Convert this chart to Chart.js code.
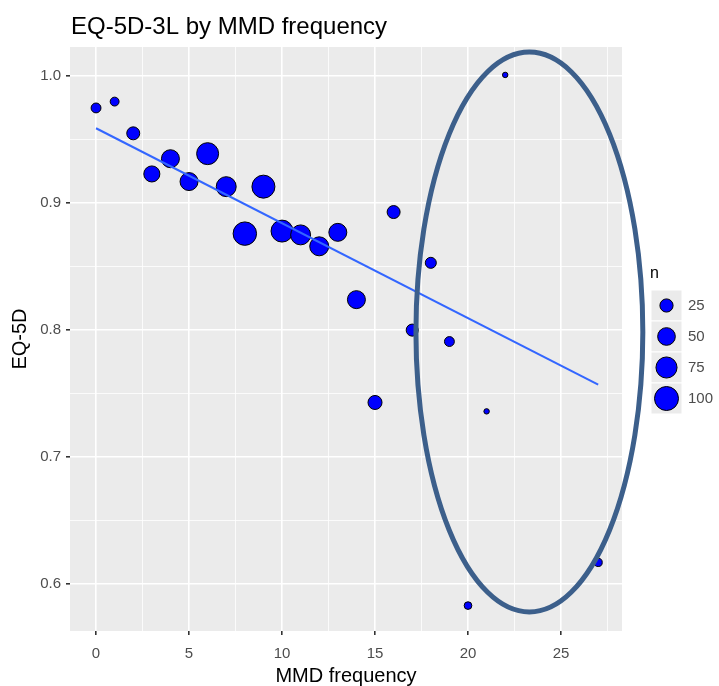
<!DOCTYPE html>
<html lang="en">
  <head>
    <meta charset="UTF-8" />
    <title>EQ-5D-3L by MMD frequency</title>
    <script src="https://cdn.jsdelivr.net/npm/chart.js"></script>
    <style>
      html,
      body {
        margin: 0;
        padding: 0;
        background: #fff;
      }
      #wrap {
        width: 719px;
        height: 686px;
      }
    </style>
  </head>
  <body>
    <div id="wrap"><canvas id="eqChart"></canvas></div>

    <script>
      // data
      const mmdFrequency = [0, 1, 2, 3, 4, 5, 6, 7, 8, 9, 10, 11, 12, 13, 14, 15, 16, 17, 18, 19, 20, 21, 22, 27];
      const eq5dMean = [0.975, 0.98, 0.955, 0.923, 0.935, 0.917, 0.939, 0.913, 0.876, 0.913, 0.878, 0.875, 0.866, 0.877, 0.824, 0.743, 0.893, 0.8, 0.853, 0.791, 0.583, 0.736, 1.001, 0.617];
      const nPatients = [12, 9, 24, 40, 52, 52, 82, 66, 95, 91, 82, 66, 59, 52, 52, 29, 24, 20, 16, 12, 6, 2, 2, 7];

      // linear fit (geom_smooth lm)
      const fitX = [0, 27];
      const fitY = [0.959, 0.757];

      const xMajorTicks = [0, 5, 10, 15, 20, 25];
      const xMinorTicks = [2.5, 7.5, 12.5, 17.5, 22.5, 27.5];
      const yMajorTicks = [0.6, 0.7, 0.8, 0.9, 1.0];
      const yMinorTicks = [0.65, 0.75, 0.85, 0.95];
      const legendSizes = [25, 50, 75, 100];

      // highlight ellipse drawn over the plot, in data units
      const ellipseX = [17.2, 29.4];
      const ellipseY = [0.578, 1.019];

      const FONT = "'Liberation Sans', Arial, sans-serif";
      const sizeToRadius = (n) => 1.2 + 1.08 * Math.sqrt(n);

      const panelPlugin = {
        id: "panel",
        beforeDraw(chart) {
          const { ctx, chartArea: a } = chart;
          ctx.save();
          ctx.fillStyle = "#EBEBEB";
          ctx.fillRect(a.left, a.top, a.right - a.left, a.bottom - a.top);
          ctx.restore();
        },
        afterDraw(chart) {
          const { ctx, chartArea: a, scales } = chart;
          ctx.save();

          // title
          ctx.fillStyle = "#000";
          ctx.font = "24px " + FONT;
          ctx.textBaseline = "alphabetic";
          ctx.textAlign = "left";
          ctx.fillText("EQ-5D-3L by MMD frequency", a.left + 1, 34);

          // size legend
          const mid = (a.top + a.bottom) / 2;
          const keyLeft = a.right + 29;
          const keyW = 31;
          const keyH = 31;
          const keyTop = mid - 49;
          ctx.textBaseline = "middle";
          ctx.font = "16px " + FONT;
          ctx.fillStyle = "#000";
          ctx.fillText("n", keyLeft - 1, keyTop - 16);
          legendSizes.forEach((n, i) => {
            const top = keyTop + i * keyH;
            ctx.fillStyle = "#EBEBEB";
            ctx.fillRect(keyLeft, top, keyW, keyH);
            ctx.strokeStyle = "#fff";
            ctx.lineWidth = 1;
            ctx.strokeRect(keyLeft, top, keyW, keyH);
            ctx.beginPath();
            ctx.arc(keyLeft + keyW / 2, top + keyH / 2, sizeToRadius(n), 0, Math.PI * 2);
            ctx.fillStyle = "#0000FF";
            ctx.fill();
            ctx.strokeStyle = "#000";
            ctx.stroke();
            ctx.fillStyle = "#4D4D4D";
            ctx.font = "15px " + FONT;
            ctx.fillText(String(n), keyLeft + keyW + 6, top + keyH / 2);
          });

          // highlight ellipse
          const x0 = scales.x.getPixelForValue(ellipseX[0]);
          const x1 = scales.x.getPixelForValue(ellipseX[1]);
          const y0 = scales.y.getPixelForValue(ellipseY[1]);
          const y1 = scales.y.getPixelForValue(ellipseY[0]);
          ctx.beginPath();
          ctx.ellipse((x0 + x1) / 2, (y0 + y1) / 2, (x1 - x0) / 2, (y1 - y0) / 2, 0, 0, Math.PI * 2);
          ctx.strokeStyle = "#3C5F8B";
          ctx.lineWidth = 5;
          ctx.stroke();

          ctx.restore();
        },
      };

      const isMajor = (list, v) => list.some((m) => Math.abs(m - v) < 1e-9);

      new Chart(document.getElementById("eqChart"), {
        type: "scatter",
        data: {
          datasets: [
            {
              type: "line",
              data: fitX.map((x, i) => ({ x: x, y: fitY[i] })),
              borderColor: "#3366FF",
              borderWidth: 2,
              pointRadius: 0,
              fill: false,
            },
            {
              data: mmdFrequency.map((x, i) => ({ x: x, y: eq5dMean[i], n: nPatients[i] })),
              backgroundColor: "#0000FF",
              borderColor: "#000",
              borderWidth: 1,
              pointRadius: (c) => sizeToRadius(c.raw.n),
            },
          ],
        },
        options: {
          responsive: true,
          maintainAspectRatio: false,
          animation: false,
          layout: { padding: { top: 47, right: 97, bottom: 0, left: 6 } },
          plugins: {
            legend: { display: false },
            tooltip: { enabled: false },
          },
          scales: {
            x: {
              type: "linear",
              min: -1.4,
              max: 28.28,
              afterBuildTicks: (s) => {
                s.ticks = [...xMajorTicks, ...xMinorTicks].sort((a, b) => a - b).map((v) => ({ value: v }));
              },
              afterFit: (s) => {
                s.height = 55;
              },
              ticks: {
                callback: (v) => (isMajor(xMajorTicks, v) ? String(v) : ""),
                color: "#4D4D4D",
                font: { family: FONT, size: 15 },
                maxRotation: 0,
                autoSkip: false,
                padding: 10,
              },
              grid: {
                color: "#fff",
                lineWidth: (c) => (isMajor(xMajorTicks, c.tick.value) ? 1.6 : 0.8),
                tickColor: (c) => (isMajor(xMajorTicks, c.tick.value) ? "#333" : "rgba(0,0,0,0)"),
                tickLength: 4,
              },
              border: { display: false },
              title: {
                display: true,
                text: "MMD frequency",
                color: "#000",
                font: { family: FONT, size: 20, lineHeight: 1 },
                padding: { top: 0, bottom: 0 },
              },
            },
            y: {
              type: "linear",
              min: 0.563,
              max: 1.023,
              afterBuildTicks: (s) => {
                s.ticks = [...yMajorTicks, ...yMinorTicks].sort((a, b) => a - b).map((v) => ({ value: v }));
              },
              afterFit: (s) => {
                s.width = 64;
              },
              ticks: {
                callback: (v) => (isMajor(yMajorTicks, v) ? v.toFixed(1) : ""),
                color: "#4D4D4D",
                font: { family: FONT, size: 15 },
                autoSkip: false,
                padding: 5,
              },
              grid: {
                color: "#fff",
                lineWidth: (c) => (isMajor(yMajorTicks, c.tick.value) ? 1.6 : 0.8),
                tickColor: (c) => (isMajor(yMajorTicks, c.tick.value) ? "#333" : "rgba(0,0,0,0)"),
                tickLength: 4,
              },
              border: { display: false },
              title: {
                display: true,
                text: "EQ-5D",
                color: "#000",
                font: { family: FONT, size: 20 },
                padding: { top: 2, bottom: 8 },
              },
            },
          },
        },
        plugins: [panelPlugin],
      });
    </script>
  </body>
</html>
